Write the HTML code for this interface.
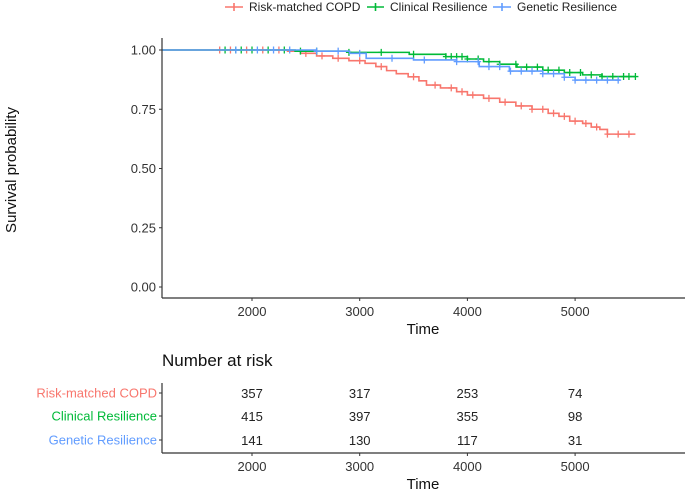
<!DOCTYPE html>
<html><head><meta charset="utf-8"><style>
body{margin:0;background:#fff}
svg text{font-family:"Liberation Sans",sans-serif}
</style></head><body>
<svg id="chart" width="685" height="493" viewBox="0 0 685 493" xmlns="http://www.w3.org/2000/svg">
<g id="legend"></g>
<g id="plot"></g>
<g id="axes"></g>
<g id="risk"></g>
</svg>
<script>
const seriesNames = ["Risk-matched COPD","Clinical Resilience","Genetic Resilience"];
const seriesColors = ["#F8766D","#00BA38","#619CFF"];
const redTimes = [1165,2330,2450,2600,2750,2900,3050,3150,3250,3340,3450,3550,3620,3750,3900,4000,4150,4300,4450,4600,4750,4850,4950,5070,5150,5230,5300,5560];
const redSurv  = [1.00,0.995,0.986,0.975,0.965,0.955,0.944,0.93,0.913,0.90,0.887,0.87,0.852,0.84,0.824,0.81,0.796,0.78,0.764,0.75,0.733,0.72,0.70,0.69,0.675,0.665,0.645,0.645];
const greenTimes = [1165,2400,2900,3460,3800,4000,4150,4300,4460,4700,4900,5070,5250,5560];
const greenSurv  = [1.00,0.995,0.99,0.982,0.972,0.962,0.951,0.94,0.928,0.915,0.905,0.895,0.888,0.888];
const blueTimes = [1165,2600,2906,3060,3500,3900,4110,4390,4700,4900,5000,5420];
const blueSurv  = [1.00,0.995,0.986,0.965,0.958,0.951,0.93,0.911,0.90,0.885,0.873,0.873];
const redCens = [1700,1800,1950,2100,2250,2500,2650,2800,3000,3200,3500,3700,3850,3950,4050,4200,4350,4500,4600,4700,4800,4900,5000,5100,5200,5300,5400,5500];
const greenCens = [1750,1850,1900,2000,2150,2300,2450,2600,2900,3200,3500,3800,3850,3900,3950,4000,4100,4200,4300,4450,4550,4650,4750,4850,4950,5050,5150,5250,5350,5450,5500,5560];
const blueCens = [1850,2050,2200,2350,2600,2800,3000,3300,3600,3900,4100,4200,4300,4400,4500,4600,4700,4800,4900,5000,5100,5200,5300,5400];
const yTicks = [0,0.25,0.5,0.75,1];
const yTickLabels = ["0.00","0.25","0.50","0.75","1.00"];
const xTicks = [2000,3000,4000,5000];
const riskTable = [[357,317,253,74],[415,397,355,98],[141,130,117,31]];

const NS="http://www.w3.org/2000/svg";
const X0=162, XR=685;
const xs = t => 252 + (t-2000)*0.1077;
const ys = v => 287 - v*237;
function mk(tag, attrs, parent, text){const e=document.createElementNS(NS,tag);for(const k in attrs)e.setAttribute(k,attrs[k]);if(text!==undefined)e.textContent=text;parent.appendChild(e);return e;}
const plot=document.getElementById('plot'), axes=document.getElementById('axes'), legend=document.getElementById('legend'), risk=document.getElementById('risk');
function stepAt(T,S,t){let v=S[0];for(let i=0;i<T.length;i++){if(T[i]<=t)v=S[i];}return v;}
const allT=[redTimes,greenTimes,blueTimes], allS=[redSurv,greenSurv,blueSurv], allC=[redCens,greenCens,blueCens];
[0,1,2].forEach(k=>{
  const T=allT[k],S=allS[k];
  let d=`M${xs(T[0])},${ys(S[0])}`;
  for(let i=1;i<T.length;i++){d+=` H${xs(T[i])} V${ys(S[i])}`;}
  const p=mk('path',{d:d,fill:'none',stroke:seriesColors[k],'stroke-width':1.6},plot);
  
  
  allC[k].forEach(t=>{const x=xs(t),y=ys(stepAt(T,S,t));
    const c=mk('path',{d:`M${x-3},${y} H${x+3} M${x},${y-3.5} V${y+3.5}`,stroke:seriesColors[k],'stroke-width':1.3},plot);
    
    
  });
});
mk('line',{x1:X0,y1:38,x2:X0,y2:298,stroke:'#333','stroke-width':1.2},axes);
mk('line',{x1:X0,y1:298,x2:XR,y2:298,stroke:'#333','stroke-width':1.2},axes);
yTicks.forEach((v,i)=>{mk('line',{x1:X0-3,x2:X0,y1:ys(v),y2:ys(v),stroke:'#333'},axes);
  const t=mk('text',{x:X0-6,y:ys(v)+4.5,'text-anchor':'end','font-size':13,fill:'#333'},axes,yTickLabels[i]);
  
  });
xTicks.forEach(v=>{mk('line',{x1:xs(v),x2:xs(v),y1:298,y2:301,stroke:'#333'},axes);
  const t=mk('text',{x:xs(v),y:316,'text-anchor':'middle','font-size':13,fill:'#333'},axes,v);
  
  });
const xt=mk('text',{x:423,y:334,'text-anchor':'middle','font-size':15,fill:'#111'},axes,'Time');


const yt=mk('text',{x:0,y:0,transform:'translate(16,170) rotate(-90)','text-anchor':'middle','font-size':15,fill:'#111'},axes,'Survival probability');


const lx=[[225,243,249],[367,384,390],[493,511,517]];
seriesNames.forEach((n,k)=>{const [a,b,tx]=lx[k];
  const g=mk('g',{},legend);
  
  
  mk('line',{x1:a,x2:b,y1:7,y2:7,stroke:seriesColors[k],'stroke-width':1.6},g);
  mk('path',{d:`M${(a+b)/2},3 V11`,stroke:seriesColors[k],'stroke-width':1.6},g);
  mk('text',{x:tx,y:11,'font-size':12,fill:'#222'},g,n);
});
const rt=mk('text',{x:162,y:366,'font-size':17,fill:'#111'},risk,'Number at risk');


mk('line',{x1:X0,y1:383,x2:X0,y2:453,stroke:'#333','stroke-width':1.2},risk);
mk('line',{x1:X0,y1:453,x2:XR,y2:453,stroke:'#333','stroke-width':1.2},risk);
const rowY=[393,416,440];
seriesNames.forEach((n,k)=>{
  mk('line',{x1:X0-3,x2:X0,y1:rowY[k],y2:rowY[k],stroke:'#333'},risk);
  const l=mk('text',{x:X0-5,y:rowY[k]+4.5,'text-anchor':'end','font-size':13,fill:seriesColors[k]},risk,n);
  
  
  riskTable[k].forEach((v,j)=>{const t=mk('text',{x:xs(xTicks[j]),y:rowY[k]+5,'text-anchor':'middle','font-size':13,fill:'#222'},risk,v);
    
    });
});
xTicks.forEach(v=>{mk('line',{x1:xs(v),x2:xs(v),y1:453,y2:456,stroke:'#333'},risk);
  const t=mk('text',{x:xs(v),y:471,'text-anchor':'middle','font-size':13,fill:'#333'},risk,v);
  
  });
const rx=mk('text',{x:423,y:489,'text-anchor':'middle','font-size':15,fill:'#111'},risk,'Time');


</script>
</body></html>
